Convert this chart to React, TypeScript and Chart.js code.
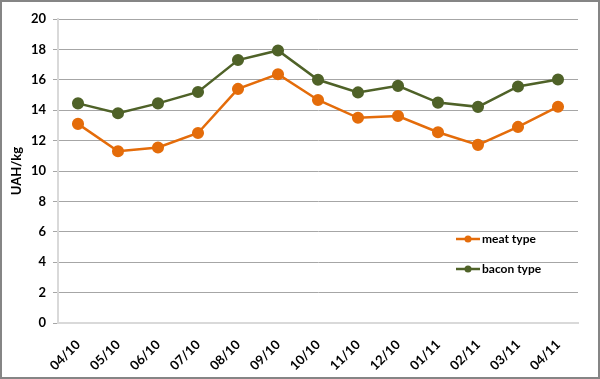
import React, { useEffect, useRef } from "react";
import { Chart, registerables } from "chart.js";

Chart.register(...registerables);

const categories = ["04/10", "05/10", "06/10", "07/10", "08/10", "09/10", "10/10", "11/10", "12/10", "01/11", "02/11", "03/11", "04/11"];
const meatType = [13.1, 11.3, 11.55, 12.5, 15.4, 16.37, 14.67, 13.5, 13.62, 12.55, 11.72, 12.9, 14.23];
const baconType = [14.45, 13.8, 14.45, 15.2, 17.3, 17.93, 16.0, 15.17, 15.6, 14.5, 14.22, 15.56, 16.02];
const yTicks = [0, 2, 4, 6, 8, 10, 12, 14, 16, 18, 20];

const FONT = "Lato, 'Open Sans', sans-serif";
const ORANGE = "#E46C0A";
const GREEN = "#4F6228";

const legendPlugin = {
  id: "insideLegend",
  afterDraw(chart: any) {
    const ctx = chart.ctx;
    const items = chart.data.datasets;
    const x0 = 454;
    const ys = [237, 267];
    ctx.save();
    items.forEach((ds: any, i: number) => {
      const y = ys[i];
      ctx.strokeStyle = ds.borderColor;
      ctx.lineWidth = 2.5;
      ctx.beginPath();
      ctx.moveTo(x0, y);
      ctx.lineTo(x0 + 24, y);
      ctx.stroke();
      ctx.fillStyle = ds.borderColor;
      ctx.beginPath();
      ctx.arc(x0 + 12, y, 3.5, 0, Math.PI * 2);
      ctx.fill();
      ctx.fillStyle = "#000";
      ctx.font = `bold 12px ${FONT}`;
      ctx.textBaseline = "middle";
      ctx.textAlign = "left";
      ctx.fillText(ds.label, x0 + 26, y);
    });
    ctx.restore();
  },
};

export default function App() {
  const ref = useRef<HTMLCanvasElement>(null);
  useEffect(() => {
    document.body.style.margin = "0";
    const chart = new Chart(ref.current!, {
      type: "line",
      data: {
        labels: categories,
        datasets: [
          {
            label: "meat type",
            data: meatType,
            borderColor: ORANGE,
            backgroundColor: ORANGE,
            borderWidth: 2.5,
            pointRadius: 4.8,
            pointBackgroundColor: ORANGE,
            pointBorderColor: ORANGE,
            tension: 0,
          },
          {
            label: "bacon type",
            data: baconType,
            borderColor: GREEN,
            backgroundColor: GREEN,
            borderWidth: 2.5,
            pointRadius: 4.8,
            pointBackgroundColor: GREEN,
            pointBorderColor: GREEN,
            tension: 0,
          },
        ],
      },
      options: {
        animation: false,
        responsive: false,
        layout: { padding: { top: 17, right: 20, left: 0, bottom: 0 } },
        plugins: { legend: { display: false }, tooltip: { enabled: false } },
        scales: {
          x: {
            offset: true,
            grid: { display: false, drawTicks: false },
            border: { display: true, color: "#d9d9d9", width: 2 },
            ticks: {
              maxRotation: 45,
              minRotation: 45,
              autoSkip: false,
              color: "#000",
              padding: 14,
              font: { family: FONT, size: 13, weight: "bold" },
            },
            afterFit(scale: any) {
              scale.height = 54;
            },
          },
          y: {
            min: 0,
            max: 20,
            afterBuildTicks(scale: any) {
              scale.ticks = yTicks.map((v) => ({ value: v }));
            },
            grid: { color: "#a6a6a6", lineWidth: 1, tickLength: 5, drawTicks: true },
            border: { display: true, color: "#d9d9d9", width: 2 },
            ticks: {
              color: "#000",
              padding: 7,
              font: { family: FONT, size: 13, weight: "bold" },
            },
            title: {
              display: true,
              text: "UAH/kg",
              color: "#000",
              font: { family: FONT, size: 13, weight: "bold" },
              padding: { top: 7, bottom: 0 },
            },
            afterFit(scale: any) {
              scale.width = 56;
            },
          },
        },
      },
      plugins: [legendPlugin],
    } as any);
    return () => chart.destroy();
  }, []);
  return (
    <div
      style={{
        position: "absolute",
        left: 0,
        top: 0,
        width: 600,
        height: 379,
        border: "2px solid #858585",
        boxSizing: "border-box",
        background: "#fff",
      }}
    >
      <canvas ref={ref} width={596} height={375} style={{ display: "block" }} />
    </div>
  );
}
